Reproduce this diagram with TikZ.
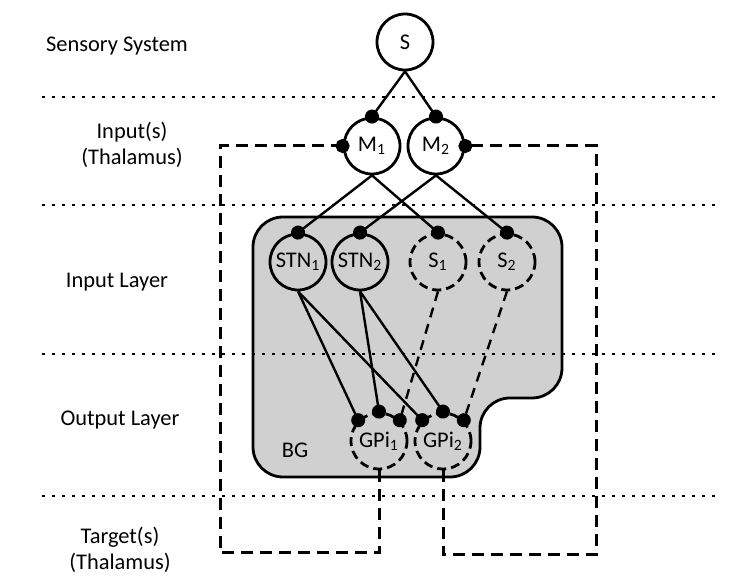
\documentclass[tikz,border=0pt]{standalone}
\usepackage{fontspec}
\setmainfont{Carlito}
\usepackage{tikz}
\usetikzlibrary{positioning, arrows.meta, calc}
\definecolor{bggray}{RGB}{208,208,208}
\tikzset{
    cell/.style={circle, draw, line width=1.4pt, minimum size=28pt, inner sep=0pt, fill=white},
    dcell/.style={cell, fill=none, dash pattern=on 4.5pt off 2.5pt},
    syn/.style={line width=1.2pt, -{Circle[length=7pt]}, shorten >=-3.5pt},
    dsyn/.style={syn, dash pattern=on 5pt off 3.5pt},
    loopline/.style={syn, line width=1.5pt, dash pattern=on 6pt off 3.5pt},
    layer/.style={line width=1.3pt, dash pattern=on 1.3pt off 3.7pt},
    lbl/.style={align=center}
}

\begin{document}
\begin{tikzpicture}[x=0.5pt, y=-0.5pt, font=\fontsize{11.2}{13}\selectfont]
    \useasboundingbox (0,0) rectangle (740,581);

    % --- Basal ganglia box ---
    \draw[fill=bggray, line width=1.4pt, rounded corners=15pt]
        (253,217) -- (562,217) -- (562,398) -- (480,398) -- (480,477) -- (253,477) -- cycle;
    \node (bg) at (295,450) {BG};

    % --- Layer separators ---
    \foreach \y in {97, 205, 354, 496} {
        \draw[layer] (42,\y) -- (720,\y);
    }

    % --- Layer names ---
    \node[lbl] (sens) at (117,46) {Sensory System};
    \node[lbl] (inp) at (132,145) {Input(s)\\(Thalamus)};
    \node[lbl] (inl) at (117,282) {Input Layer};
    \node[lbl] (outl) at (120,420) {Output Layer};
    \node[lbl] (targ) at (120,550) {Target(s)\\(Thalamus)};

    % --- Cells ---
    \node[cell] (S) at (405,42) {S};
    \node[cell] (M1) at (372,146) {M\textsubscript{1}};
    \node[cell] (M2) at (436,146) {M\textsubscript{2}};
    \node[cell, fill=none] (STN1) at (298,262) {STN\textsubscript{1}};
    \node[cell, fill=none] (STN2) at (360,262) {STN\textsubscript{2}};
    \node[dcell] (S1) at (438,262) {S\textsubscript{1}};
    \node[dcell] (S2) at (507,262) {S\textsubscript{2}};
    \node[dcell] (GPi1) at (379,441) {GPi\textsubscript{1}};
    \node[dcell] (GPi2) at (443,441) {GPi\textsubscript{2}};

    % --- Sensory to thalamus ---
    \draw[syn] (S.south) -- (M1.north);
    \draw[syn] (S.south) -- (M2.north);

    % --- Thalamus to input layer ---
    \draw[syn] (M1.south) -- (STN1.north);
    \draw[syn] (M1.south) -- (S1.north);
    \draw[syn] (M2.south) -- (STN2.north);
    \draw[syn] (M2.south) -- (S2.north);

    % --- Input layer to output layer ---
    \draw[syn] (STN1.south) -- (GPi1.135);
    \draw[syn] (STN1.south) -- (GPi2.135);
    \draw[syn] (STN2.south) -- (GPi1.north);
    \draw[syn] (STN2.south) -- (GPi2.north);
    \draw[dsyn] (S1.south) -- (GPi1.45);
    \draw[dsyn] (S2.south) -- (GPi2.45);

    % --- Output back to thalamus ---
    \coordinate (lcorner) at (220,553);
    \coordinate (rcorner) at (596,555);
    \draw[loopline] (GPi1.south) |- (lcorner) |- (M1.west);
    \draw[loopline] (GPi2.south) |- (rcorner) |- (M2.east);
\end{tikzpicture}
\end{document}
